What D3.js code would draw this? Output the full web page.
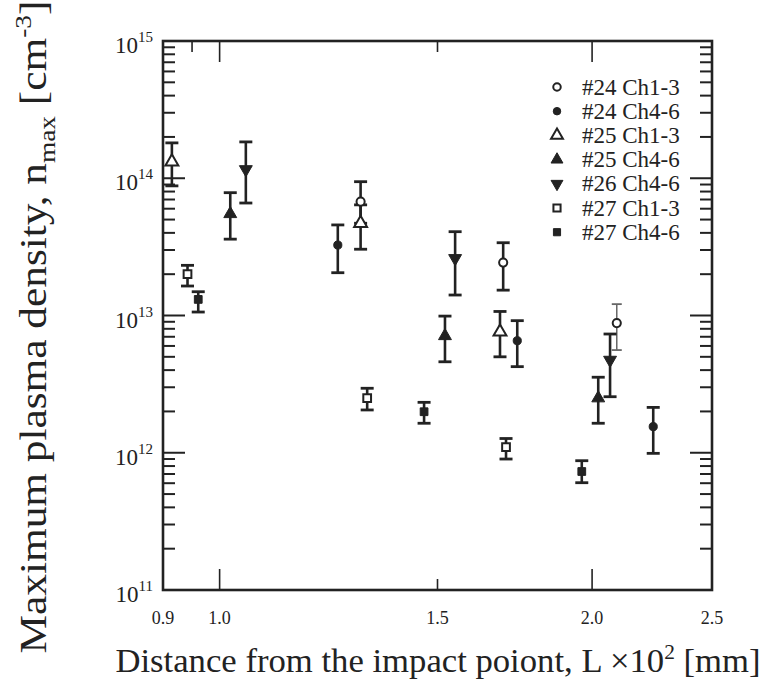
<!DOCTYPE html>
<meta charset="utf-8">
<head>
<style>
  body { margin: 0; background: #fff; }
  text { font-family: "Liberation Serif", "Times New Roman", serif; fill: #222; }
</style>
<script src="https://d3js.org/d3.v7.min.js"></script>
</head>
<body>
<script>

// data: [L x10^2 mm, n_max, lower, upper]
var s24a = [[1.300, 6.75e13, 4.7e13, 9.44e13], [1.695, 2.43e13, 1.53e13, 3.39e13], [2.094, 8.8e12, 5.6e12, 1.21e13]];
var s24b = [[1.246, 3.26e13, 2.05e13, 4.57e13], [1.740, 6.55e12, 4.24e12, 9.17e12], [2.241, 1.55e12, 9.9e11, 2.14e12]];
var s25a = [[0.915, 1.32e14, 8.8e13, 1.81e14], [1.300, 4.7e13, 3.04e13, 6.4e13], [1.685, 7.6e12, 5.0e12, 1.07e13]];
var s25b = [[1.020, 5.5e13, 3.6e13, 7.85e13], [1.521, 7.1e12, 4.6e12, 9.9e12], [2.023, 2.5e12, 1.64e12, 3.55e12]];
var s26b = [[1.050, 1.16e14, 6.6e13, 1.84e14], [1.550, 2.61e13, 1.41e13, 4.08e13], [2.068, 4.74e12, 2.56e12, 7.33e12]];
var s27a = [[0.942, 2.0e13, 1.64e13, 2.32e13], [1.316, 2.5e12, 2.05e12, 2.95e12], [1.704, 1.1e12, 9.0e11, 1.27e12]];
var s27b = [[0.961, 1.31e13, 1.06e13, 1.49e13], [1.463, 1.99e12, 1.64e12, 2.33e12], [1.962, 7.3e11, 6.05e11, 8.75e11]];

var names = ["#24 Ch1-3", "#24 Ch4-6", "#25 Ch1-3", "#25 Ch4-6", "#26 Ch4-6", "#27 Ch1-3", "#27 Ch4-6"];
var shapes = ["circle", "circle", "triangle", "triangle", "triangleDown", "square", "square"];
var filled = [false, true, false, true, true, false, true];
var allData = [s24a, s24b, s25a, s25b, s26b, s27a, s27b];

var xTicks = [0.9, 1.0, 1.5, 2.0, 2.5];
var xMajor = [1.0, 2.0];
var xMinorBottom = [1.5];
var xMinorTop = [0.95, 1.5];
var yDecades = [1e11, 1e12, 1e13, 1e14, 1e15];

var width = 765, height = 681;
var pLeft = 163, pRight = 712, pTop = 41, pBottom = 590;

var svg = d3.select("body").append("svg")
    .attr("width", width)
    .attr("height", height);

var x = d3.scaleLog().domain([0.9, 2.5]).range([pLeft, pRight]);
var y = d3.scaleLog().domain([1e11, 1e15]).range([pBottom, pTop]);

var ink = "#222";

// y minor ticks
var yMinor = [];
yDecades.slice(0, -1).forEach(function(d) {
    for (var k = 2; k <= 9; k++) yMinor.push(d * k);
});

var axes = svg.append("g");

// left and right ticks
[pLeft, pRight].forEach(function(xx, side) {
    var dir = side == 0 ? 1 : -1;
    axes.selectAll(null).data(yMinor).enter().append("line")
        .attr("x1", xx).attr("x2", xx + dir * 12)
        .attr("y1", function(d) { return y(d); })
        .attr("y2", function(d) { return y(d); })
        .attr("stroke", ink).attr("stroke-width", 2);
    axes.selectAll(null).data(yDecades.slice(1, -1)).enter().append("line")
        .attr("x1", xx).attr("x2", xx + dir * 22)
        .attr("y1", function(d) { return y(d); })
        .attr("y2", function(d) { return y(d); })
        .attr("stroke", ink).attr("stroke-width", 2);
});

// bottom and top ticks
function xTickLines(yy, dir, vals, len) {
    axes.selectAll(null).data(vals).enter().append("line")
        .attr("x1", function(d) { return x(d); })
        .attr("x2", function(d) { return x(d); })
        .attr("y1", yy).attr("y2", yy + dir * len)
        .attr("stroke", ink).attr("stroke-width", 1.6);
}
xTickLines(pBottom, -1, xMajor, 21);
xTickLines(pBottom, -1, xMinorBottom, 11);
xTickLines(pTop, 1, xMajor, 21);
xTickLines(pTop, 1, xMinorTop, 11);

// frame
axes.append("rect")
    .attr("x", pLeft).attr("y", pTop)
    .attr("width", pRight - pLeft).attr("height", pBottom - pTop)
    .attr("fill", "none").attr("stroke", ink).attr("stroke-width", 2.6);

// x tick labels
svg.append("g").selectAll("text").data(xTicks).enter().append("text")
    .attr("x", function(d) { return x(d); })
    .attr("y", 624)
    .attr("text-anchor", "middle")
    .style("font-size", "18px")
    .text(function(d) { return d.toFixed(1); });

// y tick labels
var yl = svg.append("g").selectAll("text").data(yDecades).enter().append("text")
    .attr("x", 153)
    .attr("y", function(d) { return y(d) + 12; })
    .attr("text-anchor", "end")
    .style("font-size", "23px");
yl.append("tspan").text("10");
yl.append("tspan").attr("dy", -11).style("font-size", "15px")
    .text(function(d) { return Math.round(Math.log10(d)); });

// axis titles
var xt = svg.append("text")
    .attr("transform", "translate(438,672)scale(1.02,1)")
    .attr("text-anchor", "middle")
    .style("font-size", "34px");
xt.append("tspan").text("Distance from the impact poiont, L \u00d710");
xt.append("tspan").attr("dy", -13).style("font-size", "21px").text("2");
xt.append("tspan").attr("dy", 13).text(" [mm]");

var yt = svg.append("text")
    .attr("transform", "translate(46,327)rotate(-90)scale(1.14,1)")
    .attr("text-anchor", "middle")
    .style("font-size", "38px");
yt.append("tspan").text("Maximum plasma density, n");
yt.append("tspan").attr("dy", 9).style("font-size", "24px").text("max");
yt.append("tspan").attr("dy", -9).text(" [cm");
yt.append("tspan").attr("dy", -15).style("font-size", "24px").text("-3");
yt.append("tspan").attr("dy", 15).text("]");

// markers
var symType = {
    circle: d3.symbolCircle,
    triangle: d3.symbolTriangle,
    triangleDown: d3.symbolTriangle,
    square: d3.symbolSquare
};
var symSize = { circle: 52, triangle: 72, triangleDown: 72, square: 60 };

function marker(g, i, cx, cy, scale) {
    var sh = shapes[i];
    g.append("path")
        .attr("d", d3.symbol().type(symType[sh]).size(symSize[sh] * (scale || 1))())
        .attr("transform", "translate(" + cx + "," + cy + ")" + (sh == "triangleDown" ? "rotate(180)" : ""))
        .attr("fill", filled[i] ? ink : "#fff")
        .attr("stroke", ink)
        .attr("stroke-width", filled[i] ? 1 : 2);
}

var plot = svg.append("g");

allData.forEach(function(rows, i) {
    var g = plot.append("g");
    rows.forEach(function(r, j) {
        var cx = x(r[0]);
        // the last #24 Ch1-3 bar is drawn thin and grey in the original
        var thin = (i == 0 && j == 2);
        var col = thin ? "#666" : ink;
        g.append("line")
            .attr("x1", cx).attr("x2", cx)
            .attr("y1", y(r[2])).attr("y2", y(r[3]))
            .attr("stroke", col).attr("stroke-width", thin ? 1.5 : 2.6);
        [r[2], r[3]].forEach(function(v) {
            g.append("line")
                .attr("x1", cx - (thin ? 5 : 6.5)).attr("x2", cx + (thin ? 5 : 6.5))
                .attr("y1", y(v)).attr("y2", y(v))
                .attr("stroke", col).attr("stroke-width", thin ? 1.8 : 2.8);
        });
    });
});

allData.forEach(function(rows, i) {
    var g = plot.append("g");
    rows.forEach(function(r) { marker(g, i, x(r[0]), y(r[1])); });
});

// legend
var legend = svg.append("g");
names.forEach(function(n, i) {
    var ly = 87 + i * 24.2;
    marker(legend, i, 557, ly, 0.85);
    legend.append("text")
        .attr("x", 582).attr("y", ly + 7.5)
        .style("font-size", "23px")
        .text(n);
});

</script>
</body>
